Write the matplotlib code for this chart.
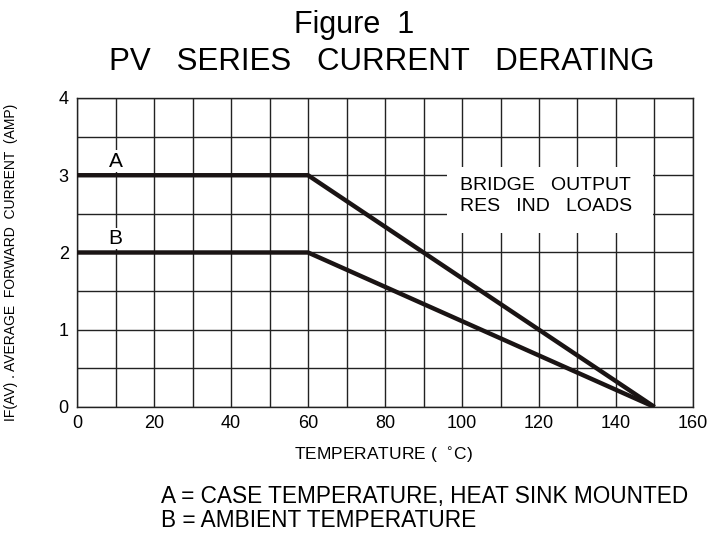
import matplotlib
matplotlib.use("Agg")
import matplotlib.pyplot as plt

plt.rcParams['font.family'] = ['Liberation Sans', 'DejaVu Sans']

temp_a = [0, 60, 150]
current_a = [3, 3, 0]
temp_b = [0, 60, 150]
current_b = [2, 2, 0]
x_ticks = [0, 20, 40, 60, 80, 100, 120, 140, 160]
y_ticks = [0, 1, 2, 3, 4]

fig = plt.figure(figsize=(7.08, 5.39), dpi=100)
ax = fig.add_axes([0.1088, 0.2449, 0.870, 0.5733])
ax.set_xlim(0, 160)
ax.set_ylim(0, 4)

for xv in range(0, 161, 10):
    ax.axvline(xv, color='#222222', lw=1.0, zorder=1)
for yv in [i * 0.5 for i in range(9)]:
    ax.axhline(yv, color='#222222', lw=1.0, zorder=1)

ax.plot(temp_a, current_a, color='#1a1414', lw=3.2, zorder=3, solid_capstyle='butt')
ax.plot(temp_b, current_b, color='#1a1414', lw=3.2, zorder=3, solid_capstyle='butt')

ax.text(10, 3.11, 'A', ha='center', va='baseline', fontsize=15,
        bbox=dict(facecolor='white', edgecolor='none', pad=1), zorder=2)
ax.text(10, 2.11, 'B', ha='center', va='baseline', fontsize=15,
        bbox=dict(facecolor='white', edgecolor='none', pad=1), zorder=2)

ax.add_patch(plt.Rectangle((96.2, 2.25), 53.3, 0.86, facecolor='white',
                           edgecolor='none', zorder=2))
ax.text(99.5, 2.87, 'BRIDGE   OUTPUT', ha='left', va='center', fontsize=14, zorder=4)
ax.text(99.5, 2.59, 'RES   IND   LOADS', ha='left', va='center', fontsize=14, zorder=4)

ax.set_xticks(x_ticks)
ax.set_yticks(y_ticks)
ax.tick_params(length=0, labelsize=13, pad=6)
for s in ax.spines.values():
    s.set_linewidth(1.0)
    s.set_color('#222222')

fig.text(0.5, 0.953, 'Figure  1', ha='center', va='center', fontsize=22)
fig.text(0.539, 0.885, 'PV   SERIES   CURRENT   DERATING', ha='center', va='center', fontsize=22.5)
fig.text(0.542, 0.156, 'TEMPERATURE (  $^{\\circ}$C)', ha='center', va='center', fontsize=12.5)
fig.text(0.016, 0.514, 'IF(AV) . AVERAGE  FORWARD  CURRENT  (AMP)', ha='center', va='center',
         rotation=90, fontsize=10)
fig.text(0.228, 0.078, 'A = CASE TEMPERATURE, HEAT SINK MOUNTED',
         ha='left', va='center', fontsize=16.3)
fig.text(0.228, 0.034, 'B = AMBIENT TEMPERATURE',
         ha='left', va='center', fontsize=16.3)

fig.savefig('out.png', dpi=100)
